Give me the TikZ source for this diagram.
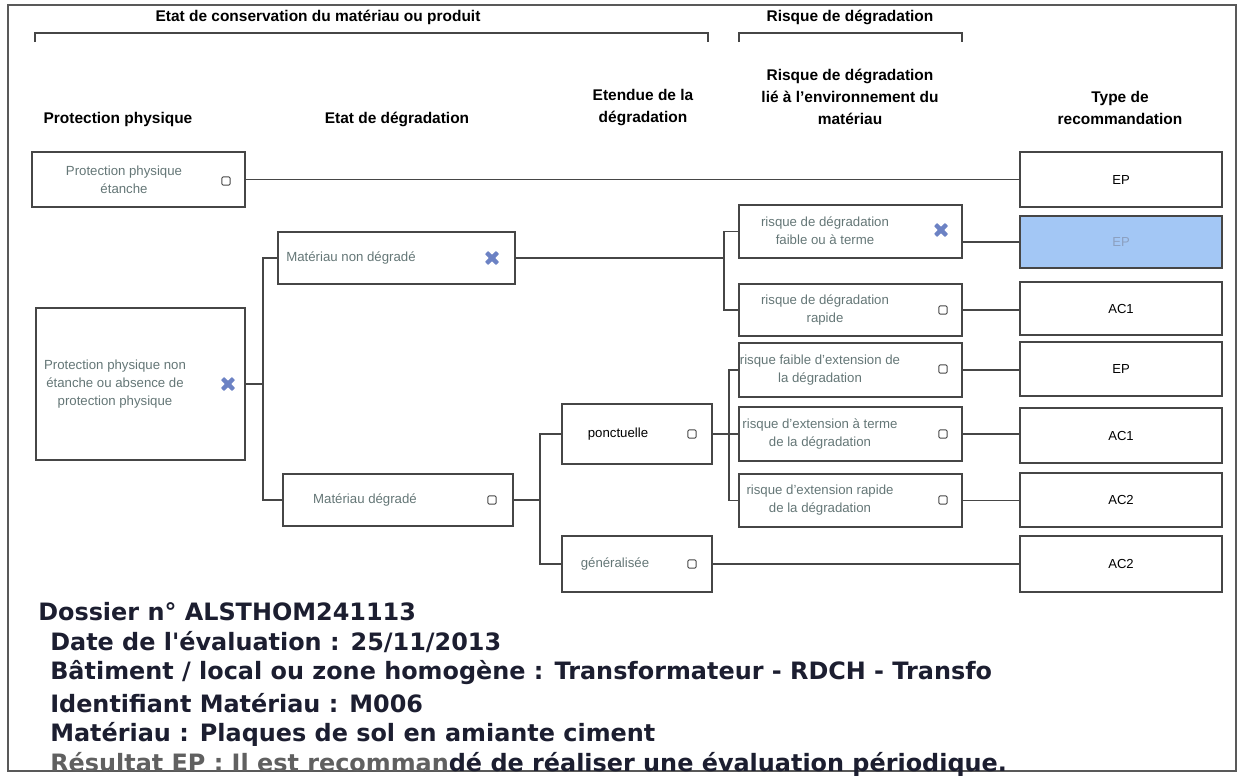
\documentclass[tikz,border=0pt]{standalone}
\usepackage{fontspec}
\setmainfont{Liberation Sans}
\newfontfamily\verdana{DejaVu Sans}
\usetikzlibrary{fit}

\definecolor{linegray}{RGB}{70,70,70}
\definecolor{labelgray}{RGB}{100,118,118}
\definecolor{crossblue}{RGB}{108,130,196}
\definecolor{pickblue}{RGB}{163,199,245}
\definecolor{pickink}{RGB}{140,160,192}
\definecolor{inkblue}{RGB}{28,30,48}
\definecolor{fadegray}{RGB}{96,96,96}

\tikzset{
  box/.style={draw=linegray, line width=0.9pt, inner sep=0pt},
  head/.style={font=\bfseries\fontsize{11}{15.6}\selectfont, align=center},
  lbl/.style={font=\fontsize{9.4}{12.8}\selectfont, text=labelgray, align=center},
  rec/.style={font=\fontsize{9.3}{11}\selectfont},
  chk/.style={draw=linegray, line width=0.7pt, rounded corners=1pt, minimum size=0.21cm, inner sep=0pt},
  wire/.style={draw=linegray, line width=0.8pt},
  info/.style={font=\verdana\bfseries\fontsize{17}{21}\selectfont, text=inkblue, anchor=west, inner sep=0pt}
}

% filled blue cross for a ticked choice
\newcommand\bluecross[1]{%
  \fill[crossblue,shift={#1},rounded corners=0.5pt] (-7,-4) -- (-4,-7) -- (0,-3.2) -- (4,-7) -- (7,-4)
    -- (3.2,0) -- (7,4) -- (4,7) -- (0,3.2) -- (-4,7) -- (-7,4) -- (-3.2,0) -- cycle;}

\begin{document}
\begin{tikzpicture}[x=0.025cm,y=-0.025cm]
\useasboundingbox (0,0) rectangle (1242,776);
\draw[draw=gray!70!black, line width=1pt] (8,5) rectangle (1236,771);

% titles and brackets
\node[head] (tcons) at (318,17) {Etat de conservation du matériau ou produit};
\node[head] (trisk) at (850,17) {Risque de dégradation};
\draw[wire] (35,42) -- (35,33) -- (708,33) -- (708,42);
\draw[wire] (739,42) -- (739,33) -- (962,33) -- (962,42);

% column heads
\node[head] (h1) at (118,119) {Protection physique};
\node[head] (h2) at (397,119) {Etat de dégradation};
\node[head] (h3) at (643,108) {Etendue de la\\dégradation};
\node[head] (h4) at (850,97) {Risque de dégradation\\lié à l'environnement du\\matériau};
\node[head] (h5) at (1120,108) {Type de\\recommandation};

% protection
\node[box, fit={(32,152) (245,207)}] (pe) {};
\node[lbl] (pet) at (124,180) {Protection physique\\étanche};
\node[chk] (pec) at (226,181) {};
\node[box, fit={(36,308) (245,460)}] (pne) {};
\node[lbl] (pnet) at (115,384) {Protection physique non\\étanche ou absence de\\protection physique};
\bluecross{(228,384)}

% etat
\node[box, fit={(278,232) (515,284)}] (mnd) {};
\node[lbl] (mndt) at (351,258) {Matériau non dégradé};
\bluecross{(492,258)}
\node[box, fit={(283,474) (513,526)}] (md) {};
\node[lbl] (mdt) at (365,500) {Matériau dégradé};
\node[chk] (mdc) at (492,500) {};

% etendue
\node[box, fit={(562,404) (712,464)}] (pon) {};
\node[lbl, text=black] (pont) at (618,434) {ponctuelle};
\node[chk] (ponc) at (692,434) {};
\node[box, fit={(562,536) (712,592)}] (gen) {};
\node[lbl] (gent) at (615,564) {généralisée};
\node[chk] (genc) at (692,564) {};

% risque
\node[box, fit={(739,205) (962,258)}] (ra) {};
\node[lbl] (rat) at (825,231) {risque de dégradation\\faible ou à terme};
\bluecross{(941,230)}
\node[box, fit={(739,284) (962,336)}] (rb) {};
\node[lbl] (rbt) at (825,310) {risque de dégradation\\rapide};
\node[chk] (rbc) at (943,310) {};
\node[box, fit={(739,343) (962,397)}] (rc) {};
\node[lbl] (rct) at (820,370) {risque faible d'extension de\\la dégradation};
\node[chk] (rcc) at (943,369) {};
\node[box, fit={(739,407) (962,461)}] (rd) {};
\node[lbl] (rdt) at (820,434) {risque d'extension à terme\\de la dégradation};
\node[chk] (rdc) at (943,434) {};
\node[box, fit={(739,474) (962,527)}] (re) {};
\node[lbl] (ret) at (820,500) {risque d'extension rapide\\de la dégradation};
\node[chk] (rec) at (943,500) {};

% recommandations
\node[box, fit={(1020,152) (1222,207)}] (t1) {};
\node[rec] at (t1) {EP};
\node[box, fill=pickblue, fit={(1020,216) (1222,268)}] (t2) {};
\node[rec, text=pickink] at (t2) {EP};
\node[box, fit={(1020,282) (1222,335)}] (t3) {};
\node[rec] at (t3) {AC1};
\node[box, fit={(1020,342) (1222,396)}] (t4) {};
\node[rec] at (t4) {EP};
\node[box, fit={(1020,408) (1222,463)}] (t5) {};
\node[rec] at (t5) {AC1};
\node[box, fit={(1020,473) (1222,527)}] (t6) {};
\node[rec] at (t6) {AC2};
\node[box, fit={(1020,536) (1222,592)}] (t7) {};
\node[rec] at (t7) {AC2};

% links
\coordinate (j1) at (263,384);
\coordinate (j2) at (724,258);
\coordinate (j3) at (540,500);
\coordinate (j4) at (729,434);
\draw[wire] (pe.east) -- (pe.east -| t1.west);
\draw[wire] (pne.east) -- (pne.east -| j1);
\draw[wire] (mnd.west) -| (j1) |- (md.west);
\draw[wire] (mnd.east) -- (mnd.east -| j2);
\draw[wire] (ra.west) -| (j2) |- (rb.west);
\draw[wire] (md.east) -- (md.east -| j3);
\draw[wire] (pon.west) -| (j3) |- (gen.west);
\draw[wire] (pon.east) -- (rd.west);
\draw[wire] (rc.west) -| (j4) |- (re.west);
\draw[wire] (ra.east |- t2.west) -- (t2.west);
\draw[wire] (rb.east) -- (rb.east -| t3.west);
\draw[wire] (rc.east) -- (rc.east -| t4.west);
\draw[wire] (rd.east) -- (rd.east -| t5.west);
\draw[wire] (re.east) -- (re.east -| t6.west);
\draw[wire] (gen.east) -- (gen.east -| t7.west);

% dossier
\node[info] (d1) at (38,612) {Dossier n° ALSTHOM241113};
\node[info] (d2) at (50,642) {Date de l'évaluation : 25/11/2013};
\node[info] (d3) at (50,673) {Bâtiment / local ou zone homogène : Transformateur - RDCH - Transfo};
\node[info] (d4) at (50,703) {Identifiant Matériau : M006};
\node[info] (d5) at (50,734) {Matériau : Plaques de sol en amiante ciment};
\node[info] (d6) at (50,764) {{\color{fadegray}Résultat EP : Il est recomman}dé de réaliser une évaluation périodique.};
\end{tikzpicture}
\end{document}
